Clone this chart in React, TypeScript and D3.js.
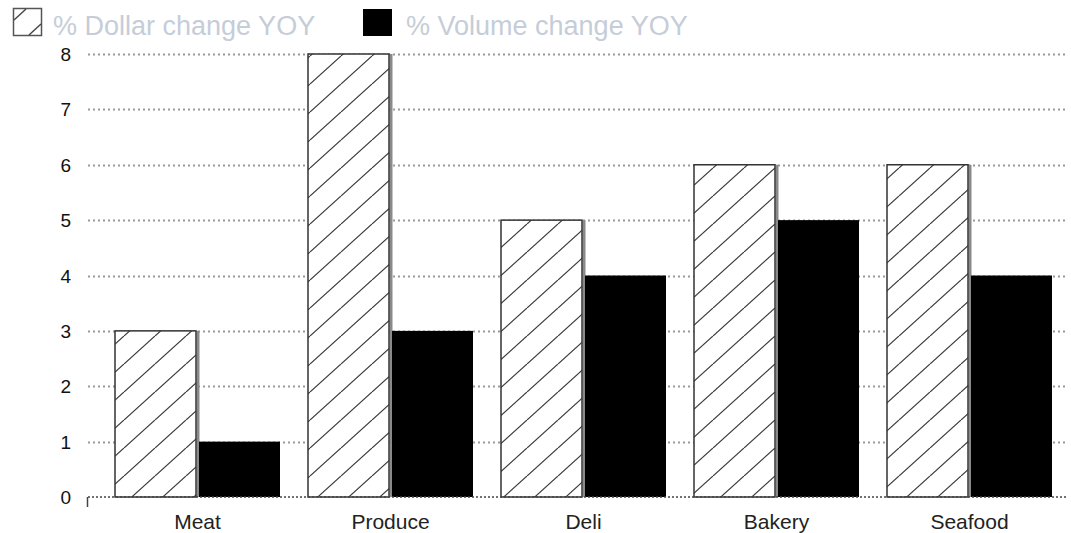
import React from "react";
import * as d3 from "d3";

// Year-over-year change by department
const categories = ["Meat", "Produce", "Deli", "Bakery", "Seafood"];
const dollarChange = [3, 8, 5, 6, 6];
const volumeChange = [1, 3, 4, 5, 4];
const seriesKeys = ["dollar", "volume"];
const seriesLabels = ["% Dollar change YOY", "% Volume change YOY"];
const yTicks = [0, 1, 2, 3, 4, 5, 6, 7, 8];

const W = 1071;
const H = 533;

export default function App() {
  const y = d3.scaleLinear().domain([0, 8]).range([497, 54]);
  const x0 = d3
    .scaleBand<string>()
    .domain(categories)
    .range([101, 1066])
    .paddingInner(28 / 193)
    .paddingOuter(14 / 193);
  const x1 = d3
    .scaleBand<string>()
    .domain(seriesKeys)
    .range([0, x0.bandwidth()])
    .paddingInner(3 / 84);

  const gridX0 = 88;
  const gridX1 = 1066;
  const font = "'Liberation Sans', Arial, Helvetica, sans-serif";

  return (
    <svg
      width={W}
      height={H}
      style={{ position: "absolute", left: 0, top: 0, background: "#fff" }}
      fontFamily={font}
    >
      <defs>
        <pattern id="hatch" patternUnits="userSpaceOnUse" width={31} height={28}>
          <line x1={0} y1={28} x2={31} y2={0} stroke="#3a3a3a" strokeWidth={1.2} />
          <line x1={-31} y1={28} x2={0} y2={0} stroke="#3a3a3a" strokeWidth={1.2} />
          <line x1={31} y1={28} x2={62} y2={0} stroke="#3a3a3a" strokeWidth={1.2} />
        </pattern>
      </defs>

      {/* legend */}
      <rect x={13.5} y={8.5} width={28} height={27} fill="#fff" stroke="#555" strokeWidth={1.5} />
      <line x1={14} y1={20} x2={26} y2={9} stroke="#444" strokeWidth={1.4} />
      <line x1={29} y1={35} x2={41} y2={24} stroke="#444" strokeWidth={1.4} />
      <text x={53} y={35} fontSize={27} fill="#c5cdd8">
        {seriesLabels[0]}
      </text>
      <rect x={363} y={9} width={29} height={27} fill="#000" />
      <text x={406} y={35} fontSize={27} fill="#c5cdd8">
        {seriesLabels[1]}
      </text>

      {/* gridlines */}
      {yTicks
        .filter((t) => t > 0)
        .map((t) => (
          <line
            key={t}
            x1={gridX0}
            x2={gridX1}
            y1={Math.round(y(t)) + 0.5}
            y2={Math.round(y(t)) + 0.5}
            stroke="#999"
            strokeWidth={2}
            strokeDasharray="2,3"
          />
        ))}

      {/* y tick labels */}
      {yTicks.map((t) => (
        <text key={t} x={71} y={y(t) + 7} fontSize={19} textAnchor="end" fill="#111">
          {t}
        </text>
      ))}

      {/* bars */}
      {categories.map((c, i) => {
        const gx = x0(c)!;
        const hx = gx + x1("dollar")!;
        const vx = gx + x1("volume")!;
        const bw = x1.bandwidth();
        return (
          <g key={c}>
            <rect
              x={hx}
              y={y(dollarChange[i])}
              width={bw}
              height={y(0) - y(dollarChange[i])}
              fill="#fff"
            />
            <rect
              x={hx + bw + 0.5}
              y={y(dollarChange[i])}
              width={vx - hx - bw}
              height={y(0) - y(dollarChange[i])}
              fill="#8a8a8a"
            />
            <rect
              x={hx}
              y={y(dollarChange[i])}
              width={bw}
              height={y(0) - y(dollarChange[i])}
              fill="url(#hatch)"
              stroke="#333"
              strokeWidth={1.5}
            />
            <rect
              x={vx}
              y={y(volumeChange[i])}
              width={bw}
              height={y(0) - y(volumeChange[i])}
              fill="#000"
            />
          </g>
        );
      })}

      {/* baseline */}
      <line
        x1={gridX0}
        x2={gridX1}
        y1={y(0)}
        y2={y(0)}
        stroke="#444"
        strokeWidth={1.5}
        strokeDasharray="2,2"
      />
      <line x1={87.5} x2={87.5} y1={y(0)} y2={y(0) + 10} stroke="#444" strokeWidth={1.5} />

      {/* category labels */}
      {categories.map((c) => (
        <text
          key={c}
          x={x0(c)! + x0.bandwidth() / 2}
          y={529}
          fontSize={21}
          textAnchor="middle"
          fill="#222"
        >
          {c}
        </text>
      ))}
    </svg>
  );
}
